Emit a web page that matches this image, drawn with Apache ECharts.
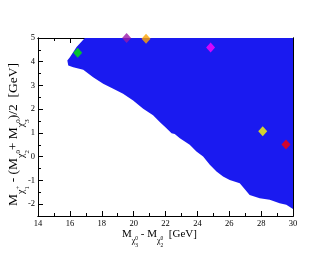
<!DOCTYPE html>
<html>
<head>
<meta charset="utf-8">
<script src="https://cdn.jsdelivr.net/npm/echarts@6/dist/echarts.min.js"></script>
<style>html,body{margin:0;padding:0;background:#fff}#c{width:330px;height:255px}</style>
</head>
<body>
<div id="c"></div>
<script>
// ---- data ----
// boundary of the allowed (blue) region, clockwise from top-left
const regionX = [16.94, 16.42, 16.00, 15.84, 15.90, 16.21, 16.84, 17.46, 18.09, 18.72, 19.34, 19.97, 20.60, 21.22, 21.64, 22.06, 22.38, 22.58, 22.90, 23.52, 23.94, 24.36, 24.78, 25.20, 25.61, 26.03, 26.66, 27.28, 27.91, 28.54, 29.16, 29.58, 30.00, 30.00];
const regionY = [5.00, 4.62, 4.19, 4.05, 3.84, 3.77, 3.66, 3.35, 3.07, 2.86, 2.65, 2.37, 2.02, 1.74, 1.46, 1.20, 0.99, 0.96, 0.78, 0.50, 0.22, 0.01, -0.34, -0.62, -0.84, -0.98, -1.12, -1.61, -1.75, -1.82, -1.96, -2.03, -2.20, 5.00];
// benchmark points (diamonds)
const markerX = [16.49, 19.56, 20.78, 24.83, 28.10, 29.56];
const markerY = [4.38, 5.00, 4.97, 4.60, 1.07, 0.51];
// tick values
const xMajor = [14, 16, 18, 20, 22, 24, 26, 28, 30];
const xMinor = [15, 17, 19, 21, 23, 25, 27, 29];
const yMajor = [-2, -1, 0, 1, 2, 3, 4, 5];
const yMinor = [-2.5, -1.5, -0.5, 0.5, 1.5, 2.5, 3.5, 4.5];

// ---- styling ----
const markerColors = ['#00ee00', '#9a19a8', '#ffa500', '#ff00ff', '#ffff00', '#ff0000'];
const FONT = "'Liberation Serif', 'DejaVu Serif', serif";

const chart = echarts.init(document.getElementById('c'), null, {renderer: 'canvas'});

function xAx(pos, vals, len, labels) {
  return {
    type: 'value', min: 14, max: 30, position: pos, gridIndex: 0,
    axisLine: {show: true, onZero: false, lineStyle: {color: '#000', width: 1}},
    axisTick: {show: true, inside: true, length: len, customValues: vals, lineStyle: {color: '#000'}},
    axisLabel: {show: labels, customValues: vals, margin: 3, fontFamily: FONT, fontSize: 8.5, color: '#000'},
    splitLine: {show: false}
  };
}
function yAx(pos, vals, len, labels) {
  return {
    type: 'value', min: -2.5, max: 5, position: pos, gridIndex: 0,
    axisLine: {show: true, onZero: false, lineStyle: {color: '#000', width: 1}},
    axisTick: {show: true, inside: true, length: len, customValues: vals, lineStyle: {color: '#000'}},
    axisLabel: {show: labels, customValues: vals, margin: 3, fontFamily: FONT, fontSize: 8.5, color: '#000'},
    splitLine: {show: false}
  };
}

// layout helper for labels with sub/superscripts
const mctx = document.createElement('canvas').getContext('2d');
function buildPieces(pieces, sizes, offs) {
  const kids = [];
  let u = 0;
  let pendingW = 0;
  pieces.forEach(p => {
    const [txt, sk, ok, adv] = p;
    const fs = sizes[sk];
    const font = fs + 'px ' + FONT;
    mctx.font = font;
    const w = mctx.measureText(txt).width;
    kids.push({type: 'text', x: u, y: offs[ok], style: {text: txt, font: font, fill: '#000', align: 'left', verticalAlign: 'middle'}});
    if (adv) { u += Math.max(w, pendingW); pendingW = 0; } else { pendingW = w; }
  });
  return kids;
}

const xLabel = [['M','m','c',true],['\u03c7','s','s',true],['0','i','p',false],['3','i','b',true],[' - ','m','c',true],['M','m','c',true],['\u03c7','s','s',true],['0','i','p',false],['2','i','b',true],['  [GeV]','m','c',true]];
const yLabel = [['M','m','c',true],['\u03c7','s','s',true],['+','i','p',false],['1','i','b',true],[' - (M','m','c',true],['\u03c7','s','s',true],['0','i','p',false],['2','i','b',true],['+ M','m','c',true],['\u03c7','s','s',true],['0','i','p',false],['3','i','b',true],[')/2  [GeV]','m','c',true]];

const xKids = buildPieces(xLabel, {m: 11, s: 8, i: 5.5}, {c: 0, s: 6, p: 3.6, b: 11});
const yKids = buildPieces(yLabel, {m: 13.5, s: 10, i: 6.8}, {c: 0, s: 7.4, p: 4.4, b: 13.5});

chart.setOption({
  animation: false,
  backgroundColor: '#fff',
  grid: {left: 38, right: 37, top: 38, bottom: 39, containLabel: false},
  xAxis: [xAx('bottom', xMajor, 5, true), xAx('bottom', xMinor, 3, false), xAx('top', xMajor, 5, false), xAx('top', xMinor, 3, false)],
  yAxis: [yAx('left', yMajor, 5, true), yAx('left', yMinor, 3, false), yAx('right', yMajor, 5, false), yAx('right', yMinor, 3, false)],
  series: [
    {
      type: 'custom', xAxisIndex: 0, yAxisIndex: 0, clip: true, z: 1,
      data: regionX.map((x, i) => [x, regionY[i]]),
      encode: {x: 0, y: 1},
      renderItem: function (params, api) {
        if (params.dataIndex !== 0) return null;
        const pts = regionX.map((x, i) => api.coord([x, regionY[i]]));
        return {type: 'polygon', shape: {points: pts}, style: {fill: '#1a1af0', stroke: null}};
      }
    },
    {
      type: 'scatter', xAxisIndex: 0, yAxisIndex: 0, z: 5, clip: false,
      symbol: 'diamond', symbolSize: [9, 10],
      data: markerX.map((x, i) => ({value: [x, markerY[i]], itemStyle: {color: markerColors[i]}}))
    }
  ],
  graphic: [
    {type: 'group', x: 122, y: 234.5, children: xKids},
    {type: 'group', x: 13.5, y: 206, rotation: Math.PI / 2, children: yKids}
  ]
});
</script>
</body>
</html>
